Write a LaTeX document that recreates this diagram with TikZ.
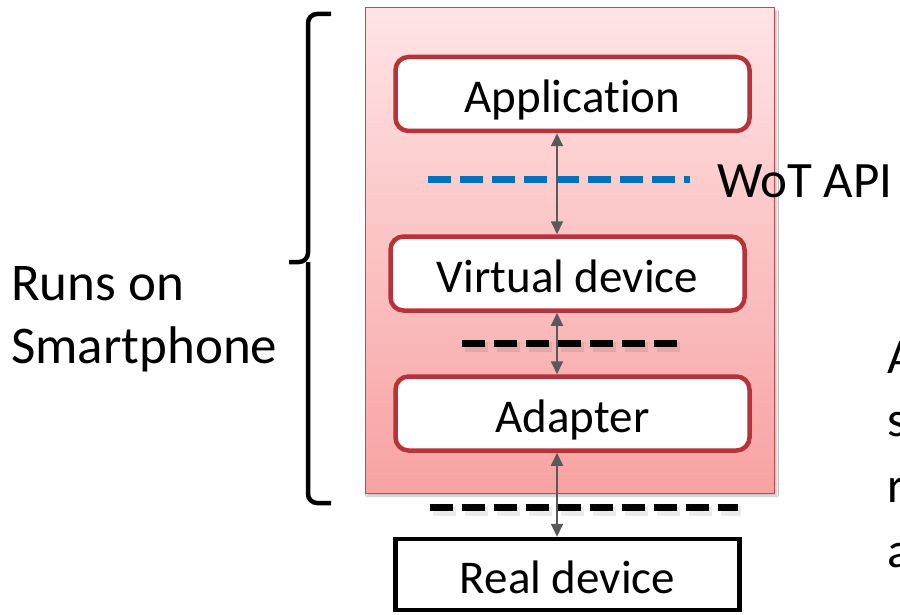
\documentclass[tikz,border=0pt]{standalone}
\usepackage{fontspec}
\setmainfont{Carlito}[Ligatures=NoCommon]
\usetikzlibrary{arrows.meta,shadows.blur}
\definecolor{layerred}{HTML}{B8323A}
\definecolor{phonetop}{HTML}{FFE4E6}
\definecolor{phonebot}{HTML}{F8A2A2}
\definecolor{phoneedge}{HTML}{C9464C}
\definecolor{apiblue}{HTML}{0070C0}
\definecolor{linkgray}{HTML}{595959}
\tikzset{
  boxtext/.style={font=\fontsize{47}{56}\selectfont, text height=41pt, text depth=4pt},
  sidetext/.style={font=\fontsize{#1}{#1}\selectfont, inner sep=0pt, anchor=base west},
  layer/.style={draw=layerred, line width=4.5pt, fill=white, rounded corners=13pt,
    minimum width=354pt, minimum height=74pt, inner sep=0pt, boxtext},
  hwbox/.style={draw=black, line width=4.5pt, fill=white,
    minimum width=344pt, minimum height=71pt, inner sep=0pt, boxtext},
  biarrow/.style={draw=linkgray, line width=1.8pt,
    {Triangle[length=13pt,width=12pt]}-{Triangle[length=13pt,width=12pt]}},
  sepline/.style={line width=7pt, dash pattern=on 23pt off 9pt},
  sepshadow/.style={sepline, draw=black, opacity=0.08, line width=10pt}
}
\begin{document}
\begin{tikzpicture}[x=1pt,y=-1pt]
  \useasboundingbox (0,0) rectangle (900,615);
  \clip (0,0) rectangle (900,615);
  \fill[white] (0,0) rectangle (900,615);

  % phone container
  \node[draw=phoneedge, line width=1pt, top color=phonetop, bottom color=phonebot,
        minimum width=409pt, minimum height=485pt, inner sep=0pt,
        blur shadow={shadow xshift=2pt, shadow yshift=-3pt, shadow blur steps=6, shadow opacity=25}]
        (phone) at (570,250.5) {};

  % stack of layers
  \node[layer] (app)  at (572.5,94)    {Application};
  \node[layer] (virt) at (567.5,273.5) {Virtual device};
  \node[layer] (adpt) at (572.5,413.5) {Adapter};
  \node[hwbox] (real) at (567.5,574.5) {Real device};

  % interface separators
  \draw[sepshadow] (465,347) -- (683,347);
  \draw[sepshadow] (433,511) -- (741,511);
  \draw[sepline, draw=apiblue] (428,180) -- (690,180);
  \draw[sepline, draw=black] (462,343) -- (680,343);
  \draw[sepline, draw=black] (430,507) -- (738,507);

  % links between layers
  \coordinate (ax) at (557,0);
  \draw[biarrow] (app.south -| ax)  -- (virt.north -| ax);
  \draw[biarrow] (virt.south -| ax) -- (adpt.north -| ax);
  \draw[biarrow] (adpt.south -| ax) -- (real.north -| ax);

  % labels
  \node[sidetext=51] (api) at (717,197) {WoT API};
  \node[sidetext=53] (runs) at (11,300) {Runs on};
  \node[sidetext=53] (phonelbl) at (11,363) {Smartphone};
  \foreach \t/\y [count=\i] in {A/373, s/436, r/502, a/567}
    \node[sidetext=50] (note\i) at (887,\y) {\t};

  % brace around the phone stack
  \coordinate (btop) at (331,14);
  \coordinate (bbot) at (331,503);
  \coordinate (btip) at (289,262);
  \draw[line width=4.5pt, rounded corners=9pt]
    (btop) -- (308,14) -- (308,262) -- (btip);
  \draw[line width=4.5pt, rounded corners=9pt]
    (bbot) -- (308,503) -- (308,262);
\end{tikzpicture}
\end{document}
